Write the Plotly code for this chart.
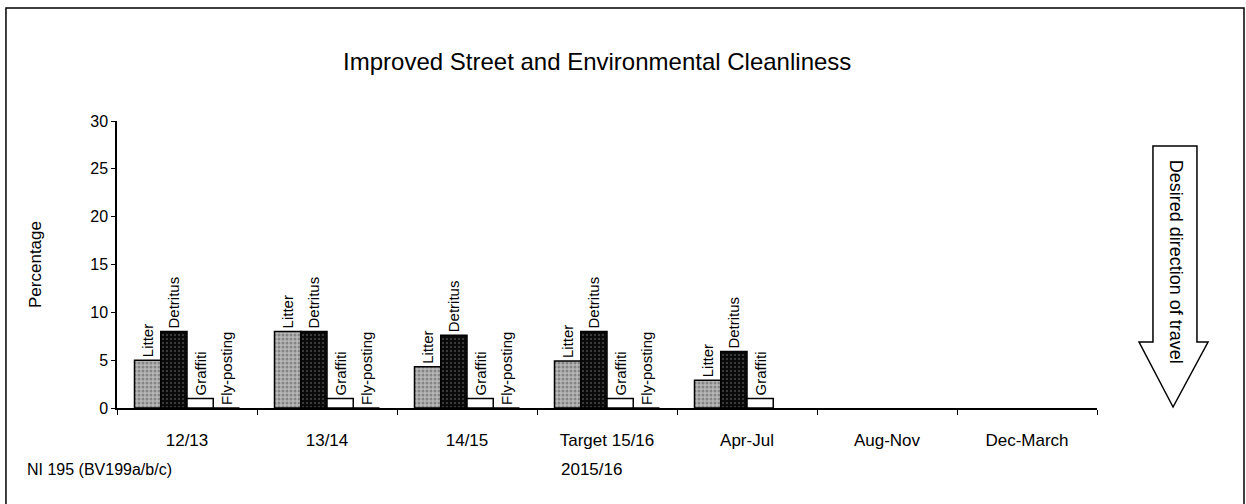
import plotly.graph_objects as go

periods = ["12/13", "13/14", "14/15", "Target 15/16", "Apr-Jul", "Aug-Nov", "Dec-March"]
litter = [5.0, 8.0, 4.3, 4.9, 2.9, None, None]
detritus = [8.0, 8.0, 7.6, 8.0, 5.9, None, None]
graffiti = [1.0, 1.0, 1.0, 1.0, 1.0, None, None]
fly_posting = [0, 0, 0, 0, None, None, None]

series = [
    ("Litter", litter, "#b8b8b8", "#505050", 0.45),
    ("Detritus", detritus, "#0a0a0a", "#8a8a8a", 0.2),
    ("Graffiti", graffiti, "white", "white", 0),
    ("Fly-posting", fly_posting, "white", "white", 0),
]

FONT = "Liberation Sans, Arial, sans-serif"

fig = go.Figure()
for name, vals, bg, fg, sol in series:
    fig.add_trace(go.Bar(
        x=periods, y=vals, name=name,
        text=[name if v is not None else "" for v in vals],
        textposition="outside", textangle=-90, cliponaxis=False, constraintext="none",
        textfont=dict(family=FONT, size=15, color="black"),
        marker=dict(color=bg, line=dict(color="black", width=1.5),
                    pattern=dict(shape="." if sol else "", fgcolor=fg, bgcolor=bg,
                                 size=4, solidity=sol if sol else 0.3)),
    ))

# plot area in paper coords: x 117..1097 px, y 121..408 px
shapes = [
    # outer frame
    dict(type="rect", xref="paper", yref="paper", x0=-0.1133, x1=1.15, y0=-0.35, y1=1.394,
         line=dict(color="black", width=1.5)),
    # desired direction arrow
    dict(type="path", xref="paper", yref="paper",
         path="M 1.0571 0.913 L 1.102 0.913 L 1.102 0.23 L 1.1133 0.23 L 1.0776 0.0035 "
              "L 1.0429 0.23 L 1.0571 0.23 Z",
         line=dict(color="black", width=1.5), fillcolor="white"),
]

annotations = [
    dict(text="Desired direction of travel", xref="paper", yref="paper", x=1.0806, y=0.51,
         xanchor="center", yanchor="middle", textangle=90, showarrow=False,
         font=dict(family=FONT, size=18, color="black")),
    dict(text="NI 195 (BV199a/b/c)", xref="paper", yref="paper", x=-0.0939, y=-0.216,
         xanchor="left", yanchor="middle", showarrow=False,
         font=dict(family=FONT, size=16, color="black")),
    dict(text="2015/16", xref="paper", yref="paper", x=0.4837, y=-0.216,
         xanchor="center", yanchor="middle", showarrow=False,
         font=dict(family=FONT, size=17, color="black")),
]

fig.update_layout(
    width=1246, height=504,
    margin=dict(l=117, r=149, t=121, b=96),
    paper_bgcolor="white", plot_bgcolor="white",
    barmode="group", bargap=0.25, bargroupgap=0,
    showlegend=False,
    font=dict(family=FONT, size=16, color="black"),
    title=dict(text="Improved Street and Environmental Cleanliness", xref="paper", x=0.49,
               xanchor="center", y=0.877, yanchor="middle",
               font=dict(family=FONT, size=24, color="black")),
    shapes=shapes, annotations=annotations,
    xaxis=dict(showline=True, linecolor="black", linewidth=1.5, ticks="outside",
               tickson="boundaries", ticklen=5, tickcolor="black", ticklabelstandoff=16,
               showgrid=False, tickfont=dict(family=FONT, size=17), automargin=False),
    yaxis=dict(range=[0, 30], dtick=5, showline=True, linecolor="black", linewidth=1.5,
               ticks="outside", ticklen=4, tickcolor="black", showgrid=False, zeroline=False,
               tickfont=dict(family=FONT, size=16), automargin=False,
               title=dict(text="Percentage", standoff=44, font=dict(family=FONT, size=17))),
)

fig.write_html("out.html", config={"displayModeBar": False},
               post_script="document.body.style.margin='0';")
